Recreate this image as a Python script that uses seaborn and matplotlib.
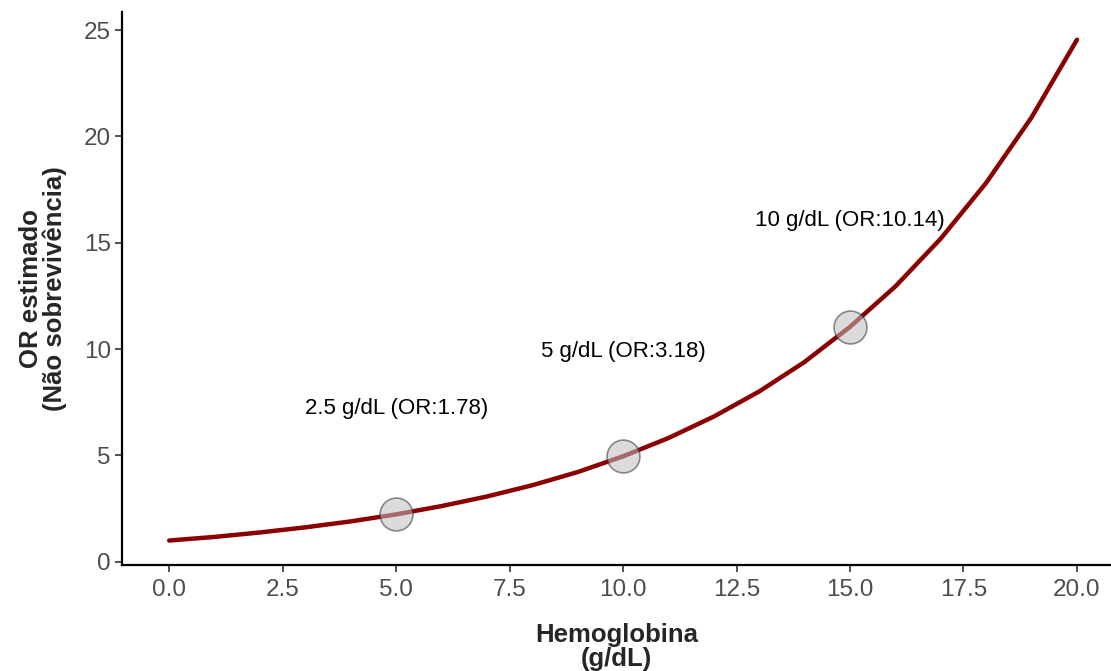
import matplotlib
matplotlib.use("Agg")
import matplotlib.pyplot as plt
import seaborn as sns
import pandas as pd

# Data
hb = [0, 1, 2, 3, 4, 5, 6, 7, 8, 9, 10, 11, 12, 13, 14, 15, 16, 17, 18, 19, 20]
or_est = [1.00, 1.17, 1.38, 1.62, 1.90, 2.23, 2.62, 3.07, 3.60, 4.22, 4.96,
          5.82, 6.83, 8.01, 9.40, 11.05, 12.95, 15.20, 17.82, 20.90, 24.55]
point_x = [5, 10, 15]
point_y = [2.23, 4.96, 11.05]
label_y = [7.2, 9.9, 16.05]
labels = ["2.5 g/dL (OR:1.78)", "5 g/dL (OR:3.18)", "10 g/dL (OR:10.14)"]
xticks = [0.0, 2.5, 5.0, 7.5, 10.0, 12.5, 15.0, 17.5, 20.0]
yticks = [0, 5, 10, 15, 20, 25]

sns.set_style("white")
plt.rcParams['font.family'] = ['Liberation Sans', 'DejaVu Sans']

fig = plt.figure(figsize=(11.11, 6.71), dpi=100)
ax = fig.add_axes([0.1098, 0.158, 0.8902, 0.824])

df = pd.DataFrame({"hb": hb, "or": or_est})
sns.lineplot(data=df, x="hb", y="or", ax=ax, color="#8B0000", linewidth=3.2)
pts = pd.DataFrame({"x": point_x, "y": point_y})
sns.scatterplot(data=pts, x="x", y="y", ax=ax, s=560, color="#BEBEBE", alpha=0.55,
                edgecolor="#333333", linewidth=1.2, zorder=3)

for xx, yy, t in zip(point_x, label_y, labels):
    ax.text(xx, yy, t, ha="center", va="center", fontsize=16, color="black")

ax.set_xlim(-1.04, 20.75)
ax.set_ylim(-0.15, 25.85)
ax.set_xticks(xticks)
ax.set_xticklabels([f"{v:.1f}" for v in xticks])
ax.set_yticks(yticks)
ax.tick_params(axis="both", which="both", direction="out", length=5, width=1.2,
               colors="#333333", labelcolor="#4D4D4D", labelsize=17.5, bottom=True, left=True)
ax.tick_params(axis="x", pad=5)
ax.tick_params(axis="y", pad=3)

for s in ["top", "right"]:
    ax.spines[s].set_visible(False)
for s in ["left", "bottom"]:
    ax.spines[s].set_color("black")
    ax.spines[s].set_linewidth(1.6)

ax.set_xlabel("Hemoglobina\n(g/dL)", fontsize=18.5, fontweight="bold", labelpad=16,
              linespacing=1.0)
ax.set_ylabel("OR estimado\n(Não sobrevivência)", fontsize=18.5, fontweight="bold",
              labelpad=12, linespacing=1.0)

fig.savefig("out.png", dpi=100)
